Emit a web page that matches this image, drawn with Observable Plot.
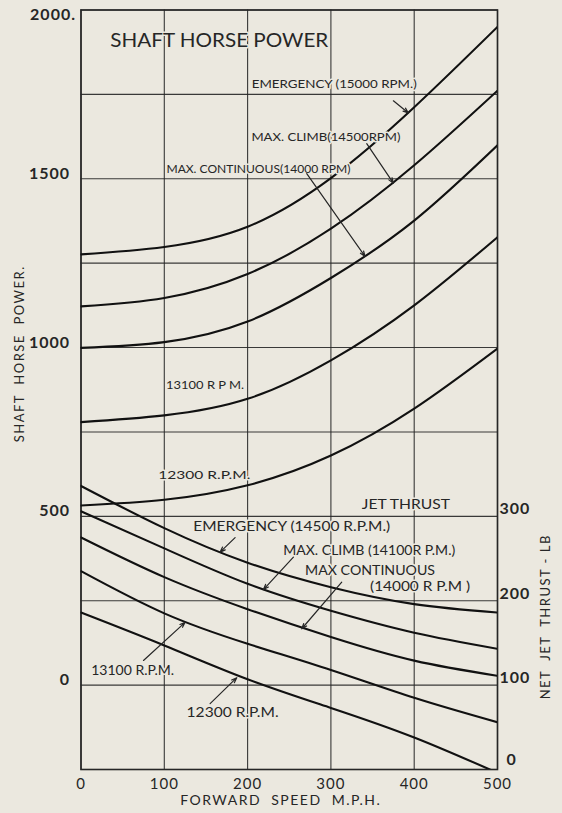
<!DOCTYPE html>
<html><head><meta charset="utf-8">
<script src="https://cdn.jsdelivr.net/npm/d3@7"></script>
<script src="https://cdn.jsdelivr.net/npm/@observablehq/plot@0.6"></script>
<style>
html,body{margin:0;padding:0;background:#ebe8df;}
</style></head><body><div id="chart"></div>
<script>
// Shaft horse power curves (SHP) vs forward speed (m.p.h.)
const shpSpeeds = [0, 100, 200, 300, 400, 500];
const shpEmergency15000 = [1276, 1298, 1358, 1502, 1712, 1950];
const shpMaxClimb14500 = [1122, 1147, 1218, 1352, 1540, 1761];
const shpMaxCont14000 = [999, 1016, 1077, 1206, 1376, 1599];
const shp13100 = [779, 799, 848, 962, 1125, 1327];
const shp12300 = [532, 549, 592, 680, 819, 997];

// Net jet thrust curves (lb) vs forward speed (m.p.h.)
const thrustSpeeds = [0, 100, 200, 300, 400, 500];
const thrEmergency14500 = [336, 286, 245, 216, 196, 186];
const thrMaxClimb14100 = [306, 262, 220, 188, 162, 143];
const thrMaxCont14000 = [275, 228, 190, 157, 129, 111];
const thr13100 = [235, 185, 149, 118, 85, 56];
const thr12300 = [186, 147, 107, 73, 38, -4];

// Axis ticks
const speedTicks = [0, 100, 200, 300, 400, 500];
const shpTicks = [0, 500, 1000, 1500];
const shpTopTick = [2000];
const thrustTicks = [100, 200, 300];
const thrustZeroTick = [0];
const shpGrid = [-250, 0, 250, 500, 750, 1000, 1250, 1500, 1750, 2000];

// thrust axis shares the grid: 100 lb == 250 SHP, 0 lb == -250 SHP
const thrustToShp = t => t * 2.5 - 250;

const rows = [];
[["E15000", shpEmergency15000], ["C14500", shpMaxClimb14500], ["M14000", shpMaxCont14000],
 ["S13100", shp13100], ["S12300", shp12300]].forEach(([k, vals]) =>
  vals.forEach((v, i) => rows.push({series: k, speed: shpSpeeds[i], value: v})));
[["TE", thrEmergency14500], ["TC", thrMaxClimb14100], ["TM", thrMaxCont14000],
 ["T13100", thr13100], ["T12300", thr12300]].forEach(([k, vals]) =>
  vals.forEach((v, i) => rows.push({series: k, speed: thrustSpeeds[i], value: thrustToShp(v)})));

// Annotations (data coordinates: mph, SHP scale); w = printed width in px
const labels = [
  {text: "SHAFT HORSE POWER", x: 166, y: 1908, size: 20, w: 218},
  {text: "EMERGENCY (15000 RPM.)", x: 304, y: 1781, size: 11.5, w: 165},
  {text: "MAX. CLIMB(14500RPM)", x: 294, y: 1623, size: 11.5, w: 149},
  {text: "MAX. CONTINUOUS(14000 RPM)", x: 213, y: 1528, size: 11.5, w: 184},
  {text: "13100 R P M.", x: 149, y: 888, size: 12, w: 78},
  {text: "12300 R.P.M.", x: 148, y: 621, size: 12, w: 84},
  {text: "JET THRUST", x: 390, y: 534, size: 13, w: 88},
  {text: "EMERGENCY (14500 R.P.M.)", x: 253, y: 468, size: 13, w: 197},
  {text: "MAX. CLIMB (14100R P.M.)", x: 346, y: 396, size: 12.5, w: 172},
  {text: "MAX CONTINUOUS", x: 347, y: 340, size: 13, w: 130},
  {text: "(14000 R P.M )", x: 407, y: 290, size: 12.5, w: 100},
  {text: "13100 R.P.M.", x: 62, y: 41, size: 13, w: 83},
  {text: "12300 R.P.M.", x: 182, y: -83, size: 13.5, w: 92}
];
const arrows = [
  {x1: 375, y1: 1731, x2: 393, y2: 1695},
  {x1: 343, y1: 1604, x2: 375, y2: 1487},
  {x1: 271, y1: 1515, x2: 341, y2: 1270},
  {x1: 185, y1: 437, x2: 167, y2: 394},
  {x1: 255, y1: 379, x2: 219, y2: 283},
  {x1: 313, y1: 305, x2: 265, y2: 167},
  {x1: 75, y1: 73, x2: 125, y2: 186},
  {x1: 155, y1: -55, x2: 187, y2: 22}
];

const ink = "#262626";
const paper = "#ebe8df";
const fmt = d => String(d);
const thrFmt = d => String((d + 250) / 2.5);

const chart = Plot.plot({
  width: 562, height: 813,
  marginLeft: 80.5, marginRight: 65, marginTop: 9.5, marginBottom: 44,
  x: {domain: [0, 500]},
  y: {domain: [-250, 2000]},
  style: {background: paper, fontFamily: "Lato, 'Open Sans', sans-serif", color: ink},
  marks: [
    Plot.gridX(speedTicks, {stroke: ink, strokeOpacity: 0.9, strokeWidth: 1.1}),
    Plot.gridY(shpGrid, {stroke: ink, strokeOpacity: 0.9, strokeWidth: 1.1}),
    Plot.frame({stroke: ink, strokeWidth: 1.6}),
    Plot.line(rows, {x: "speed", y: "value", z: "series", curve: "natural",
      stroke: "#111", strokeWidth: 2.1, clip: true}),
    Plot.text(labels, {x: "x", y: "y", text: "text", fontSize: "size", fill: ink,
      stroke: paper, strokeWidth: 3, paintOrder: "stroke", className: "ann"}),
    Plot.arrow(arrows, {x1: "x1", y1: "y1", x2: "x2", y2: "y2", stroke: ink,
      strokeWidth: 1.2, headLength: 7, headAngle: 40}),
    Plot.axisX(speedTicks, {tickSize: 0, tickPadding: 9, fontSize: 15, label: null, fill: ink,
      tickFormat: fmt, className: "num"}),
    Plot.axisY(shpTicks, {anchor: "left", tickSize: 0, tickPadding: 11, dy: -5, fontSize: 16,
      fontWeight: "bold", label: null, fill: ink, tickFormat: fmt, className: "num"}),
    Plot.axisY(shpTopTick, {anchor: "left", tickSize: 0, tickPadding: 5, dy: 5, fontSize: 16,
      fontWeight: "bold", label: null, tickFormat: d => d + ".", fill: ink, className: "num"}),
    Plot.axisY(thrustTicks.map(thrustToShp), {anchor: "right", tickSize: 0, tickPadding: 2, dy: -7,
      fontSize: 16, fontWeight: "bold", label: null, tickFormat: thrFmt, fill: ink, className: "num"}),
    Plot.axisY(thrustZeroTick.map(thrustToShp), {anchor: "right", tickSize: 0, tickPadding: 9, dy: -10,
      fontSize: 16, fontWeight: "bold", label: null, tickFormat: thrFmt, fill: ink, className: "num"}),
    Plot.text(["SHAFT  HORSE  POWER."], {frameAnchor: "left", textAnchor: "middle", dx: -61, dy: -36,
      rotate: -90, fontSize: 13, fill: ink, className: "ttl"}),
    Plot.text(["NET  JET  THRUST - LB"], {frameAnchor: "right", textAnchor: "middle", dx: 48, dy: 227,
      rotate: -90, fontSize: 13, fill: ink, className: "ttl"}),
    Plot.text(["FORWARD  SPEED  M.P.H."], {frameAnchor: "bottom", dx: -8.5, dy: 35,
      fontSize: 14, fill: ink, className: "ttl"})
  ]
});
document.getElementById("chart").appendChild(chart);
d3.select(chart).selectAll(".ttl text").style("letter-spacing", "1.5px");
d3.select(chart).selectAll(".num text").style("letter-spacing", "1px");
// match the printed width of each in-chart label
const widthByText = new Map(labels.map(d => [d.text, d.w]));
d3.select(chart).selectAll(".ann text").each(function() {
  const w = widthByText.get(this.textContent);
  if (w) { this.setAttribute("textLength", w); this.setAttribute("lengthAdjust", "spacingAndGlyphs"); }
});
</script>
</body></html>
